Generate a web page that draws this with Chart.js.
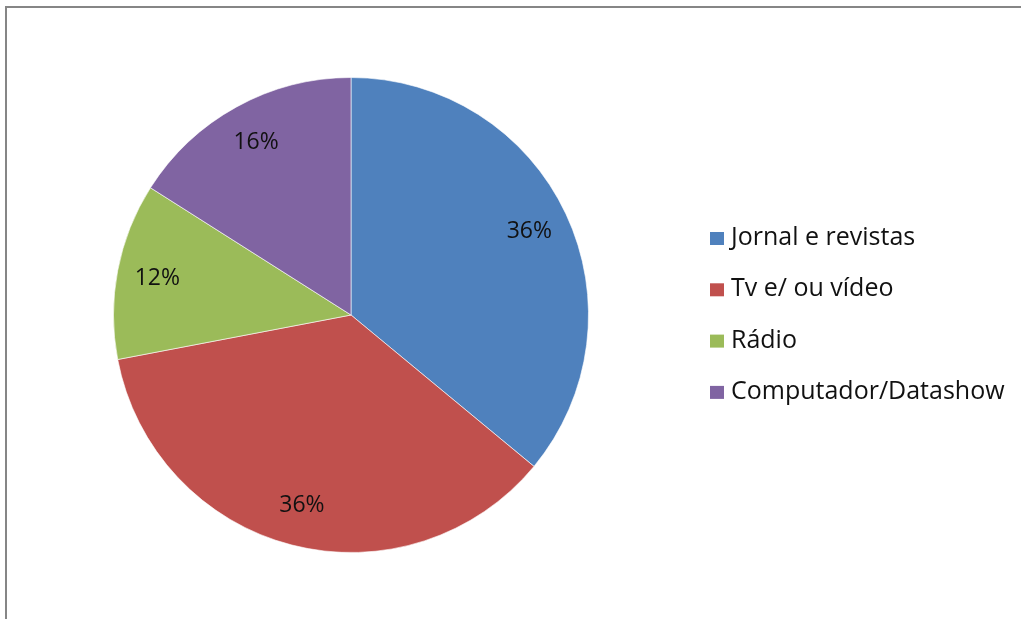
<!DOCTYPE html>
<html>
<head>
<meta charset="utf-8">
<script src="https://cdn.jsdelivr.net/npm/chart.js@4.4.0/dist/chart.umd.min.js"></script>
<style>
  html, body { margin: 0; padding: 0; background: #fff; }
  #wrap { position: relative; width: 1021px; height: 619px; }
</style>
</head>
<body>
<div id="wrap"><canvas id="myChart" width="1021" height="619"></canvas></div>
<script>
let labels = ["Jornal e revistas", "Tv e/ ou vídeo", "Rádio", "Computador/Datashow"];
let values = [36, 36, 12, 16];
let sliceColors = ["#4F81BD", "#C0504D", "#9BBB59", "#8064A2"];

// moldura cinza (só em cima e à esquerda, como no original)
let framePlugin = {
    id: "frame",
    beforeDraw(chart) {
        let ctx = chart.ctx;
        ctx.save();
        ctx.fillStyle = "#868686";
        ctx.fillRect(5, 6, 1016, 2);
        ctx.fillRect(5, 6, 2, 613);
        ctx.restore();
    },
};

// rótulos de percentagem dentro das fatias
let pctPlugin = {
    id: "pct",
    afterDatasetsDraw(chart) {
        let ctx = chart.ctx;
        let meta = chart.getDatasetMeta(0);
        ctx.save();
        ctx.font = "23px 'Open Sans'";
        ctx.fillStyle = "#111";
        ctx.textAlign = "center";
        ctx.textBaseline = "middle";
        meta.data.forEach((arc, i) => {
            let mid = (arc.startAngle + arc.endAngle) / 2;
            let r = arc.outerRadius * 0.83;
            let x = arc.x + Math.cos(mid) * r;
            let y = arc.y + Math.sin(mid) * r;
            ctx.fillText(values[i] + "%", x, y);
        });
        ctx.restore();
    },
};

// legenda desenhada à mão
let legendPlugin = {
    id: "myLegend",
    afterDraw(chart) {
        let ctx = chart.ctx;
        ctx.save();
        ctx.font = "25px 'Open Sans'";
        ctx.textBaseline = "middle";
        labels.forEach((name, i) => {
            let y = 238 + i * 51.3;
            ctx.fillStyle = sliceColors[i];
            ctx.fillRect(710, y - 6, 14, 13);
            ctx.fillStyle = "#111";
            ctx.fillText(name, 731, y);
        });
        ctx.restore();
    },
};

let chart = new Chart("myChart", {
    type: "pie",
    data: {
        labels: labels,
        datasets: [
            {
                data: values,
                backgroundColor: sliceColors,
                borderColor: "rgba(255,255,255,0.6)",
                borderWidth: 1,
            },
        ],
    },
    options: {
        responsive: false,
        animation: false,
        layout: {
            padding: { left: 113, right: 432, top: 77, bottom: 66 },
        },
        plugins: {
            legend: { display: false },
            tooltip: { enabled: false },
        },
    },
    plugins: [framePlugin, pctPlugin, legendPlugin],
});
</script>
</body>
</html>
